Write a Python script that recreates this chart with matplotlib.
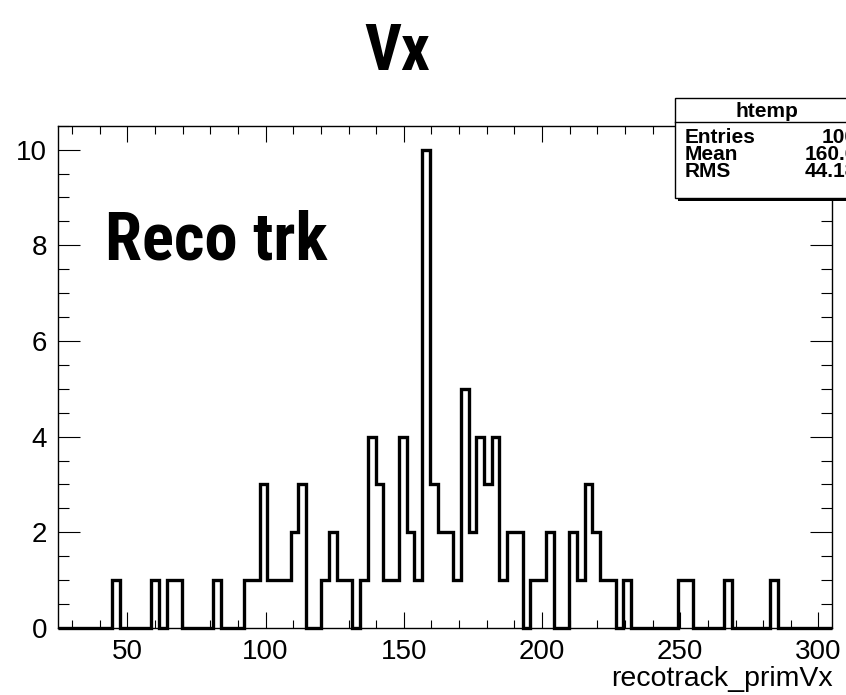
import numpy as np
import matplotlib
matplotlib.use("Agg")
import matplotlib.pyplot as plt
from matplotlib import font_manager
from matplotlib.patches import Rectangle
from matplotlib.ticker import MultipleLocator

# Histogram of the reconstructed primary vertex x (100 bins over [25, 305])
x_min, x_max, n_bins = 25.0, 305.0, 100
counts = [
    0, 0, 0, 0, 0, 0, 0, 1, 0, 0,
    0, 0, 1, 0, 1, 1, 0, 0, 0, 0,
    1, 0, 0, 0, 1, 1, 3, 1, 1, 1,
    2, 3, 0, 0, 1, 2, 1, 1, 0, 1,
    4, 3, 1, 1, 4, 2, 1, 10, 3, 2,
    2, 1, 5, 2, 4, 3, 4, 1, 2, 2,
    0, 1, 1, 2, 0, 0, 2, 1, 3, 2,
    1, 1, 0, 1, 0, 0, 0, 0, 0, 0,
    1, 1, 0, 0, 0, 0, 1, 0, 0, 0,
    0, 0, 1, 0, 0, 0, 0, 0, 0, 0,
]
x_ticks = [50, 100, 150, 200, 250, 300]
y_ticks = [0, 2, 4, 6, 8, 10]

title = "Vx"
overlay = "Reco trk"
x_label = "recotrack_primVx"
stats_name = "htemp"
stats_rows = [("Entries", "100"), ("Mean", "160.6"), ("RMS", "44.18")]


def first_font(cands):
    for name in cands:
        try:
            font_manager.findfont(font_manager.FontProperties(family=name),
                                  fallback_to_default=False)
            return name
        except Exception:
            continue
    return "DejaVu Sans"


narrow = first_font(["Liberation Sans Narrow", "DejaVu Sans Condensed",
                     "Roboto Condensed", "Open Sans Condensed", "Liberation Sans"])
plain = first_font(["Liberation Sans", "Arial", "DejaVu Sans"])
plt.rcParams["font.family"] = [plain, "DejaVu Sans"]

W, H = 846, 695
fig = plt.figure(figsize=(W / 100, H / 100), dpi=100)


def fx(px):
    return px / W


def fy(py):
    return 1 - py / H


ax = fig.add_axes([fx(58.3), fy(628), fx(832.3) - fx(58.3), fy(125.7) - fy(628)])
edges = np.linspace(x_min, x_max, n_bins + 1)
ax.stairs(counts, edges, baseline=0, color="black", linewidth=2.4,
          clip_on=False, zorder=3)
ax.set_xlim(x_min, x_max)
ax.set_ylim(0, 10.5)

ax.set_xticks(x_ticks)
ax.set_yticks(y_ticks)
ax.xaxis.set_minor_locator(MultipleLocator(10))
ax.yaxis.set_minor_locator(MultipleLocator(0.5))
ax.tick_params(axis="both", which="both", direction="in", top=True, right=True,
               width=0.8, color="black")
ax.tick_params(axis="x", which="major", length=11.3, labelsize=20, pad=8)
ax.tick_params(axis="x", which="minor", length=5.8)
ax.tick_params(axis="y", which="major", length=15.5, labelsize=20, pad=8)
ax.tick_params(axis="y", which="minor", length=7.8)
for sp in ax.spines.values():
    sp.set_linewidth(1.0)

fig.text(fx(833), fy(686), x_label, ha="right", va="baseline", fontsize=20.5)

fig.text(fx(397), fy(70), title, ha="center", va="baseline", fontsize=46,
         fontweight="bold", family=[narrow, "DejaVu Sans"])
fig.text(fx(105), fy(260), overlay, ha="left", va="baseline", fontsize=48,
         fontweight="bold", family=[narrow, "DejaVu Sans"])

# Statistics box with drop shadow
bx0, bx1, by0, by1 = 674.7, 859.0, 98.3, 198.3
shadow = Rectangle((fx(bx0 + 3), fy(by1 + 3)), fx(bx1 - bx0), fy(by0) - fy(by1),
                   transform=fig.transFigure, facecolor="black", edgecolor="none",
                   zorder=5)
box = Rectangle((fx(bx0), fy(by1)), fx(bx1 - bx0), fy(by0) - fy(by1),
                transform=fig.transFigure, facecolor="white", edgecolor="black",
                linewidth=1.0, zorder=6)
fig.patches.extend([shadow, box])
fig.add_artist(plt.Line2D([fx(bx0), fx(bx1)], [fy(122.3), fy(122.3)],
                          transform=fig.transFigure, color="black", linewidth=1.0,
                          zorder=7))
fig.text(fx((bx0 + bx1) / 2), fy(116.7), stats_name, ha="center", va="baseline",
         fontsize=15, fontweight="bold", zorder=8)
for (lab, val), base in zip(stats_rows, [142.7, 160.0, 177.3]):
    fig.text(fx(685), fy(base), lab, ha="left", va="baseline", fontsize=15,
             fontweight="bold", zorder=8)
    fig.text(fx(857), fy(base), val, ha="right", va="baseline", fontsize=15,
             fontweight="bold", zorder=8)

fig.savefig("out.png", dpi=100)
